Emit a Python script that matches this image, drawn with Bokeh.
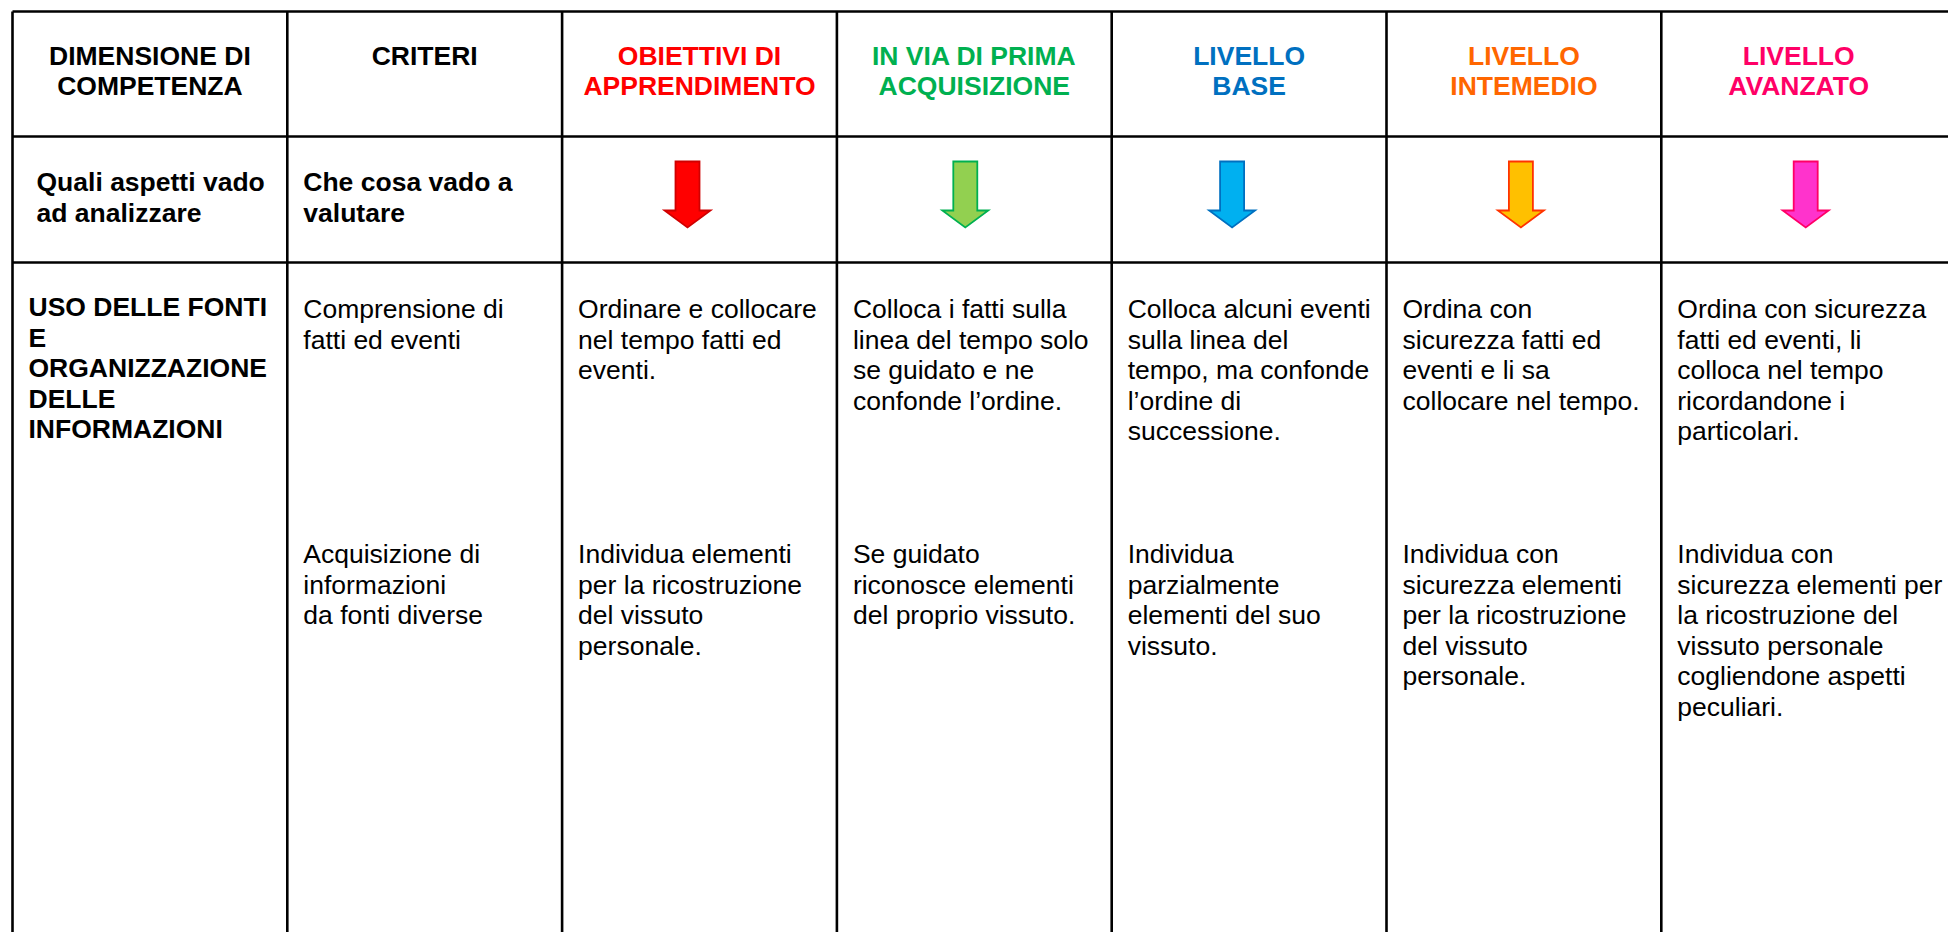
from bokeh.plotting import figure
from bokeh.models import Range1d, ColumnDataSource
from bokeh.core.properties import value
from bokeh.embed import file_html
from bokeh.resources import INLINE

# ---------------- data ----------------
header_titles = [
    "DIMENSIONE DI\nCOMPETENZA",
    "CRITERI",
    "OBIETTIVI DI\nAPPRENDIMENTO",
    "IN VIA DI PRIMA\nACQUISIZIONE",
    "LIVELLO\nBASE",
    "LIVELLO\nINTEMEDIO",
    "LIVELLO\nAVANZATO",
]
header_colors = ["#000000", "#000000", "#FF0000", "#00B050", "#0070C0", "#FF6600", "#FF0066"]

question_texts = ["Quali aspetti vado\nad analizzare", "Che cosa vado a\nvalutare"]

arrow_fill = ["#FF0000", "#92D050", "#00B0F0", "#FFC000", "#FF33CC"]
arrow_line = ["#D00000", "#00B050", "#0070C0", "#FF3300", "#FF0066"]

dimension_text = "USO DELLE FONTI\nE\nORGANIZZAZIONE\nDELLE\nINFORMAZIONI"

block1_texts = [
    "Comprensione di\nfatti ed eventi",
    "Ordinare e collocare\nnel tempo fatti ed\neventi.",
    "Colloca i fatti sulla\nlinea del tempo solo\nse guidato e ne\nconfonde l\u2019ordine.",
    "Colloca alcuni eventi\nsulla linea del\ntempo, ma confonde\nl\u2019ordine di\nsuccessione.",
    "Ordina con\nsicurezza fatti ed\neventi e li sa\ncollocare nel tempo.",
    "Ordina con sicurezza\nfatti ed eventi, li\ncolloca nel tempo\nricordandone i\nparticolari.",
]
block2_texts = [
    "Acquisizione di\ninformazioni\nda fonti diverse",
    "Individua elementi\nper la ricostruzione\ndel vissuto\npersonale.",
    "Se guidato\nriconosce elementi\ndel proprio vissuto.",
    "Individua\nparzialmente\nelementi del suo\nvissuto.",
    "Individua con\nsicurezza elementi\nper la ricostruzione\ndel vissuto\npersonale.",
    " Individua con\nsicurezza elementi per\nla ricostruzione del\nvissuto personale\ncogliendone aspetti\npeculiari.",
]

# ---------------- layout ----------------
W, H = 1948, 932
col_left = 12
col_w = 274.8
n_cols = 7
col_edges = [col_left + i * col_w for i in range(n_cols + 1)]
row_lines = [11, 136, 262]
bottom = 940
line_h = 30.6
FONT = "Liberation Sans"
FS = "26.5px"
pad = 16
dy = -9.5            # renderer baseline correction
arrow_dx = [-12, -9, -17, -3, 7]

p = figure(width=W, height=H, output_backend="svg", toolbar_location=None,
           x_range=Range1d(0, W), y_range=Range1d(H, 0),
           min_border=0, background_fill_color="white", border_fill_color="white")
p.axis.visible = False
p.grid.visible = False
p.outline_line_color = None

# grid lines
for y in row_lines:
    p.line([col_left, W + 20], [y, y], line_color="black", line_width=2.6)
for x in col_edges[:-1]:
    p.line([x, x], [row_lines[0], bottom], line_color="black", line_width=2.6)


def add_lines(texts, xs, y0, colors, bold, align, spacing=line_h):
    rx, ry, rt, rc = [], [], [], []
    for t, x, c in zip(texts, xs, colors):
        for i, ln in enumerate(t.split("\n")):
            rx.append(x)
            ry.append(y0 + dy + i * spacing)
            rt.append(ln)
            rc.append(c)
    src = ColumnDataSource(dict(x=rx, y=ry, text=rt, color=rc))
    p.text(x="x", y="y", text="text", source=src, text_color="color",
           text_font=value(FONT), text_font_size=FS,
           text_font_style="bold" if bold else "normal",
           text_align=align, text_baseline="alphabetic")


# header row
centers = [(col_edges[i] + col_edges[i + 1]) / 2 for i in range(n_cols)]
add_lines(header_titles, centers, 65, header_colors, True, "center", spacing=29.5)

# question row
add_lines(question_texts, [36, col_edges[1] + pad], 191, ["#000000"] * 2, True, "left")

# arrows
for i, (fc, lc) in enumerate(zip(arrow_fill, arrow_line)):
    cx = centers[i + 2] + arrow_dx[i]
    top, neck, tip = 161, 210, 227
    sw, hw = 12, 23
    xs = [cx - sw, cx + sw, cx + sw, cx + hw, cx, cx - hw, cx - sw]
    ys = [top, top, neck, neck, tip, neck, neck]
    p.patch(xs, ys, fill_color=fc, line_color=lc, line_width=1.8, line_join="miter")

# body
add_lines([dimension_text], [28], 316, ["#000000"], True, "left")
xs_body = [col_edges[i] + pad for i in range(1, n_cols)]
add_lines(block1_texts, xs_body, 318, ["#000000"] * 6, False, "left")
add_lines(block2_texts, xs_body, 563, ["#000000"] * 6, False, "left")

open("out.html", "w").write(file_html(p, INLINE))
